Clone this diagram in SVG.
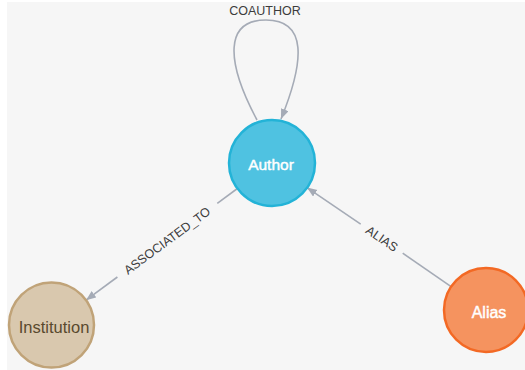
<svg xmlns="http://www.w3.org/2000/svg" width="525" height="370" viewBox="0 0 525 370">
  <defs>
    <marker id="arrow" markerUnits="userSpaceOnUse" markerWidth="11" markerHeight="9" refX="10" refY="4" orient="auto">
      <path d="M0,0 L10,4 L0,8 z" fill="#a5abb6"/>
    </marker>
    <style>
      .edge { fill: none; stroke: #a5abb6; stroke-width: 1.6; }
      .elabel { font-family: "Liberation Sans", Arial, sans-serif; font-size: 12.5px; fill: #3c3c3c; text-anchor: middle; }
      .nlabel { font-family: "Liberation Sans", Arial, sans-serif; font-size: 16px; text-anchor: middle; }
      .light { fill: #ffffff; stroke: #ffffff; stroke-width: 0.45; }
      .dark { fill: #5a4a2e; }
      .author { fill: #4fc2e1; stroke: #23b3d7; stroke-width: 2.5; }
      .institution { fill: #d9c8ae; stroke: #c0a378; stroke-width: 2.5; }
      .alias { fill: #f5935f; stroke: #f36924; stroke-width: 2.5; }
    </style>
  </defs>

  <!-- canvas -->
  <rect x="0" y="0" width="525" height="370" fill="#ffffff"/>
  <rect x="7" y="2" width="518" height="368" fill="#f6f6f6"/>

  <!-- relationships -->
  <g id="connectors">
    <!-- COAUTHOR self loop -->
    <path class="edge" d="M257,120 C225,60 225,20 266,20 C307,20 305,60 281,119" marker-end="url(#arrow)"/>
    <text class="elabel" x="265" y="15">COAUTHOR</text>

    <!-- ASSOCIATED_TO: Author -> Institution -->
    <line class="edge" x1="237.4" y1="188.5" x2="217.3" y2="203.3"/>
    <line class="edge" x1="117.4" y1="277.0" x2="86" y2="300.2" marker-end="url(#arrow)"/>
    <text class="elabel" transform="translate(167,240.5) rotate(-36.4)" x="0" y="4.5">ASSOCIATED_TO</text>

    <!-- ALIAS: Alias -> Author -->
    <line class="edge" x1="450.4" y1="286.1" x2="402.7" y2="253.2"/>
    <line class="edge" x1="360.7" y1="224.2" x2="307" y2="187.6" marker-end="url(#arrow)"/>
    <text class="elabel" transform="translate(382,238.5) rotate(34.6)" x="0" y="4.5">ALIAS</text>
  </g>

  <!-- nodes -->
  <g id="node-author">
    <circle class="author" cx="272" cy="163" r="43"/>
    <text class="nlabel light" x="271" y="169.5" style="font-size:15.5px">Author</text>
  </g>

  <g id="node-institution">
    <circle class="institution" cx="51.5" cy="325" r="42.5"/>
    <text class="nlabel dark" x="54" y="332.5" style="font-size:16.5px">Institution</text>
  </g>

  <g id="node-alias">
    <circle class="alias" cx="486" cy="310" r="42"/>
    <text class="nlabel light" x="489" y="317.5">Alias</text>
  </g>
</svg>
